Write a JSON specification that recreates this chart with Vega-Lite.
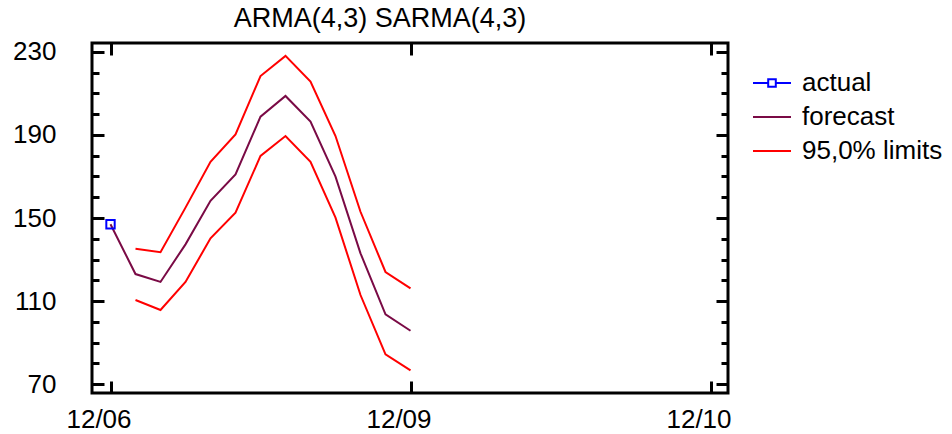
{
  "$schema": "https://vega.github.io/schema/vega-lite/v6.json",
  "autosize": "none",
  "width": 636,
  "height": 350,
  "padding": {"left": 92, "top": 43, "right": 224, "bottom": 41},
  "background": "white",
  "title": {"text": "ARMA(4,3) SARMA(4,3)", "fontSize": 27, "fontWeight": "normal", "font": "Liberation Sans", "color": "black", "dx": -30, "offset": 6},
  "config": {
    "font": "Liberation Sans",
    "view": {"stroke": "black", "strokeWidth": 3},
    "axis": {"grid": false, "domain": false, "labelFontSize": 26, "labelColor": "black", "tickColor": "black", "tickWidth": 3, "title": null, "labelFont": "Liberation Sans"}
  },
  "data": {"values": [
    {"t": 0, "v": 147.0, "s": "actual", "b": "actual"},
    {"t": 0, "v": 147.0, "s": "forecast", "b": "forecast"},
    {"t": 1, "v": 123.0, "s": "forecast", "b": "forecast"},
    {"t": 2, "v": 119.2, "s": "forecast", "b": "forecast"},
    {"t": 3, "v": 137.3, "s": "forecast", "b": "forecast"},
    {"t": 4, "v": 158.3, "s": "forecast", "b": "forecast"},
    {"t": 5, "v": 171.0, "s": "forecast", "b": "forecast"},
    {"t": 6, "v": 198.8, "s": "forecast", "b": "forecast"},
    {"t": 7, "v": 208.8, "s": "forecast", "b": "forecast"},
    {"t": 8, "v": 196.4, "s": "forecast", "b": "forecast"},
    {"t": 9, "v": 169.9, "s": "forecast", "b": "forecast"},
    {"t": 10, "v": 133.0, "s": "forecast", "b": "forecast"},
    {"t": 11, "v": 103.6, "s": "forecast", "b": "forecast"},
    {"t": 12, "v": 95.7, "s": "forecast", "b": "forecast"},
    {"t": 1, "v": 135.2, "s": "95,0% limits", "b": "upper"},
    {"t": 2, "v": 133.5, "s": "95,0% limits", "b": "upper"},
    {"t": 3, "v": 155.0, "s": "95,0% limits", "b": "upper"},
    {"t": 4, "v": 177.1, "s": "95,0% limits", "b": "upper"},
    {"t": 5, "v": 190.3, "s": "95,0% limits", "b": "upper"},
    {"t": 6, "v": 218.4, "s": "95,0% limits", "b": "upper"},
    {"t": 7, "v": 228.1, "s": "95,0% limits", "b": "upper"},
    {"t": 8, "v": 215.7, "s": "95,0% limits", "b": "upper"},
    {"t": 9, "v": 189.5, "s": "95,0% limits", "b": "upper"},
    {"t": 10, "v": 153.0, "s": "95,0% limits", "b": "upper"},
    {"t": 11, "v": 124.0, "s": "95,0% limits", "b": "upper"},
    {"t": 12, "v": 116.1, "s": "95,0% limits", "b": "upper"},
    {"t": 1, "v": 110.5, "s": "95,0% limits", "b": "lower"},
    {"t": 2, "v": 105.7, "s": "95,0% limits", "b": "lower"},
    {"t": 3, "v": 119.2, "s": "95,0% limits", "b": "lower"},
    {"t": 4, "v": 140.2, "s": "95,0% limits", "b": "lower"},
    {"t": 5, "v": 152.6, "s": "95,0% limits", "b": "lower"},
    {"t": 6, "v": 179.9, "s": "95,0% limits", "b": "lower"},
    {"t": 7, "v": 189.5, "s": "95,0% limits", "b": "lower"},
    {"t": 8, "v": 177.1, "s": "95,0% limits", "b": "lower"},
    {"t": 9, "v": 150.2, "s": "95,0% limits", "b": "lower"},
    {"t": 10, "v": 112.9, "s": "95,0% limits", "b": "lower"},
    {"t": 11, "v": 84.3, "s": "95,0% limits", "b": "lower"},
    {"t": 12, "v": 76.6, "s": "95,0% limits", "b": "lower"}
  ]},
  "encoding": {
    "x": {"field": "t", "type": "quantitative", "scale": {"domain": [-0.74, 24.7], "nice": false, "zero": false}},
    "y": {"field": "v", "type": "quantitative", "scale": {"domain": [65.7, 234.3], "nice": false, "zero": false}},
    "color": {"field": "s", "type": "nominal", "scale": {"domain": ["actual", "forecast", "95,0% limits"], "range": ["#0000ff", "#7a0a45", "#ff0000"]},
      "legend": {"title": null, "orient": "none", "legendX": 660, "legendY": 23, "labelFontSize": 26, "labelColor": "black", "symbolSize": 1444, "symbolStrokeWidth": 2, "labelOffset": 10, "clipHeight": 34, "rowPadding": 0,
        "encode": {"symbols": {"update": {"shape": {"signal": "datum.value === 'actual' ? 'M-1,0H-0.2M0.2,0H1M-0.2,-0.2H0.2V0.2H-0.2Z' : 'stroke'"}, "fill": {"value": "transparent"}, "strokeWidth": {"value": 2}, "stroke": {"scale": "color", "field": "value"}, "opacity": {"value": 1}}}}}}
  },
  "layer": [
    {
      "transform": [{"filter": "datum.b === 'forecast'"}],
      "mark": {"type": "line", "strokeWidth": 2},
      "encoding": {
        "x": {"field": "t", "type": "quantitative", "axis": {"orient": "bottom", "values": [0, 12, 24], "tickSize": -12, "labelPadding": 25, "labelOffset": -12, "labelExpr": "datum.value == 0 ? '12/06' : datum.value == 12 ? '12/09' : '12/10'"}},
        "y": {"field": "v", "type": "quantitative", "axis": {"orient": "left", "values": [70, 110, 150, 190, 230], "tickSize": -12, "labelPadding": 48}}
      }
    },
    {
      "transform": [{"filter": "datum.b === 'upper'"}],
      "mark": {"type": "line", "strokeWidth": 2},
      "encoding": {
        "x": {"field": "t", "type": "quantitative", "axis": {"orient": "top", "values": [0, 12, 24], "tickSize": -12, "labels": false}},
        "y": {"field": "v", "type": "quantitative", "axis": {"orient": "left", "values": [80, 90, 100, 120, 130, 140, 160, 170, 180, 200, 210, 220], "tickSize": -7, "labels": false}}
      }
    },
    {
      "transform": [{"filter": "datum.b === 'lower'"}],
      "mark": {"type": "line", "strokeWidth": 2},
      "encoding": {
        "x": {"field": "t", "type": "quantitative", "axis": null},
        "y": {"field": "v", "type": "quantitative", "axis": {"orient": "right", "values": [70, 110, 150, 190, 230], "tickSize": -12, "labels": false}}
      }
    },
    {
      "transform": [{"filter": "datum.b === 'actual'"}],
      "mark": {"type": "point", "shape": "square", "filled": false, "size": 70, "strokeWidth": 2, "opacity": 1},
      "encoding": {
        "x": {"field": "t", "type": "quantitative", "axis": null},
        "y": {"field": "v", "type": "quantitative", "axis": {"orient": "right", "values": [80, 90, 100, 120, 130, 140, 160, 170, 180, 200, 210, 220], "tickSize": -7, "labels": false}}
      }
    }
  ],
  "resolve": {"axis": {"x": "independent", "y": "independent"}}
}
